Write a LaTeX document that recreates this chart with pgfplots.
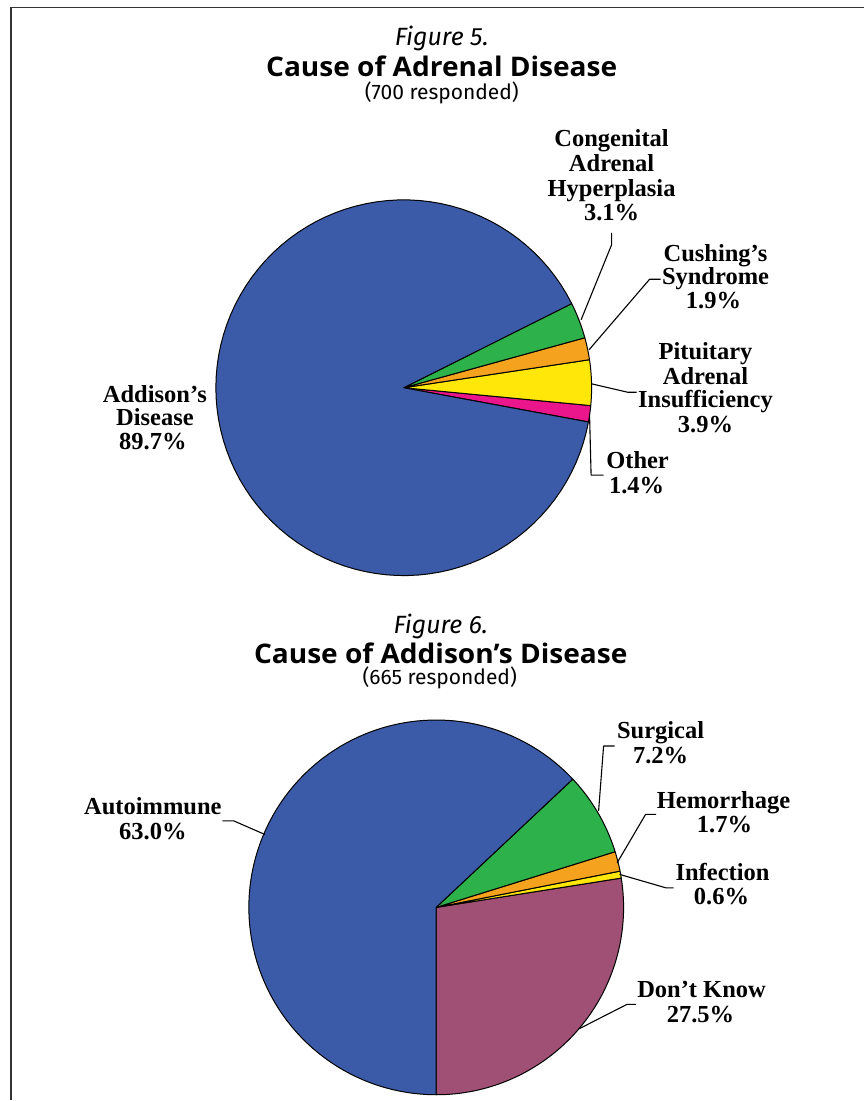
\documentclass[border=0pt]{standalone}
\usepackage{pgfplots}
\pgfplotsset{compat=1.18}
\usepackage{pgfplotstable}
\usepackage{fontspec}
\setmainfont{Liberation Serif}
\newfontfamily\titlefont{Fira Sans}
\newfontfamily\headfont[FakeStretch=1.04]{Open Sans}

\definecolor{pieblue}{HTML}{3B5BA8}
\definecolor{piegreen}{HTML}{2DB14B}
\definecolor{pieorange}{HTML}{F5A31F}
\definecolor{pieyellow}{HTML}{FFE70A}
\definecolor{piepink}{HTML}{EC168C}
\definecolor{piemauve}{HTML}{A05074}

% slices listed counter-clockwise, from the start angle
\pgfplotstableread{
pct colour
1.4 piepink
3.9 pieyellow
1.9 pieorange
3.1 piegreen
89.7 pieblue
}\adrenaltable

\pgfplotstableread{
pct colour
27.5 piemauve
0.6 pieyellow
1.7 pieorange
7.2 piegreen
63.0 pieblue
}\addisontable

% #1 table, #2 cx, #3 cy, #4 radius, #5 start angle
\newcommand\drawpie[5]{%
  \pgfplotstablegetrowsof{#1}%
  \pgfmathtruncatemacro\nrows{\pgfplotsretval-1}%
  \xdef\cumangle{#5}%
  \pgfplotsforeachungrouped \i in {0,...,\nrows}{%
    \pgfplotstablegetelem{\i}{pct}\of{#1}\let\slicepct\pgfplotsretval
    \pgfplotstablegetelem{\i}{colour}\of{#1}\let\slicecol\pgfplotsretval
    \pgfmathsetmacro\sliceend{\cumangle+3.6*\slicepct}%
    \edef\doslice{\noexpand\addplot[fill=\slicecol, draw=black, line width=1pt,
      line join=round, domain=\cumangle:\sliceend, samples=100]
      ({#2+#4*cos(x)},{#3+#4*sin(x)}) -- (#2,#3) -- cycle;}%
    \doslice
    \xdef\cumangle{\sliceend}%
  }%
}

\newcommand\lb[3]{\node[anchor=base, inner sep=0pt,
  font=\bfseries\fontsize{24.5}{24.5}\selectfont] at (#1,-#2) {#3};}
\newcommand\ttl[4]{\node[anchor=base, inner sep=0pt,
  font=#4] at (#1,-#2) {#3};}

\begin{document}
\begin{tikzpicture}
\begin{axis}[
    width=865pt, height=1101pt, scale only axis,
    xmin=0, xmax=865, ymin=-1101, ymax=0,
    hide axis, clip=false,
]
\path (0,0) rectangle (865,-1101);

\drawpie{\adrenaltable}{404}{-388}{188}{-10.5}
\drawpie{\addisontable}{436.5}{-908}{187.5}{-90}

% frame
\draw[line width=1.5pt, black!80] (11,-1101) -- (11,-7.5) -- (865,-7.5);

% Figure 5 titles
\ttl{442}{46}{Figure 5.}{\titlefont\itshape\fontsize{25}{25}\selectfont}
\ttl{442}{77}{Cause of Adrenal Disease}{\headfont\bfseries\fontsize{27}{27}\selectfont}
\ttl{442}{100}{(700 responded)}{\titlefont\fontsize{21}{21}\selectfont}

% Figure 6 titles
\ttl{441}{634}{Figure 6.}{\titlefont\itshape\fontsize{25}{25}\selectfont}
\ttl{441}{664}{Cause of Addison’s Disease}{\headfont\bfseries\fontsize{27}{27}\selectfont}
\ttl{440}{685}{(665 responded)}{\titlefont\fontsize{21}{21}\selectfont}

% Figure 5 labels
\lb{155}{403}{Addison’s}
\lb{155}{426}{Disease}
\lb{153}{450}{89.7\%}
\lb{612}{147}{Congenital}
\lb{612}{172}{Adrenal}
\lb{612}{197}{Hyperplasia}
\lb{612}{221}{3.1\%}
\lb{716}{262}{Cushing’s}
\lb{716}{285}{Syndrome}
\lb{714}{309}{1.9\%}
\lb{706}{360}{Pituitary}
\lb{706}{385}{Adrenal}
\lb{706}{408}{Insufficiency}
\lb{706}{433}{3.9\%}
\lb{638}{469}{Other}
\lb{637}{493.5}{1.4\%}

% Figure 6 labels
\lb{153}{815}{Autoimmune}
\lb{153}{840}{63.0\%}
\lb{661}{739}{Surgical}
\lb{661}{764}{7.2\%}
\lb{724}{809}{Hemorrhage}
\lb{725}{833}{1.7\%}
\lb{723}{881}{Infection}
\lb{722}{905}{0.6\%}
\lb{702}{998}{Don’t Know}
\lb{701}{1023}{27.5\%}

% leader lines
\begin{scope}[line width=1.1pt, line join=round]
\draw (581.5,-320) -- (612,-245) -- (612,-233);
\draw (589.5,-350) -- (650,-279.5) -- (661,-279.5);
\draw (591.5,-384) -- (628,-392.5) -- (637,-392.5);
\draw (590,-417) -- (591.5,-475.5) -- (604,-475.5);
\draw (599,-811.5) -- (604,-746.5) -- (615,-746.5);
\draw (617.5,-863.5) -- (646,-815) -- (656.5,-815);
\draw (620,-875) -- (666.5,-888.5) -- (674,-888.5);
\draw (579.5,-1029.5) -- (627.5,-1005) -- (636.5,-1005);
\draw (222.5,-821.5) -- (234,-821.5) -- (265,-835);
\end{scope}
\end{axis}
\end{tikzpicture}
\end{document}
